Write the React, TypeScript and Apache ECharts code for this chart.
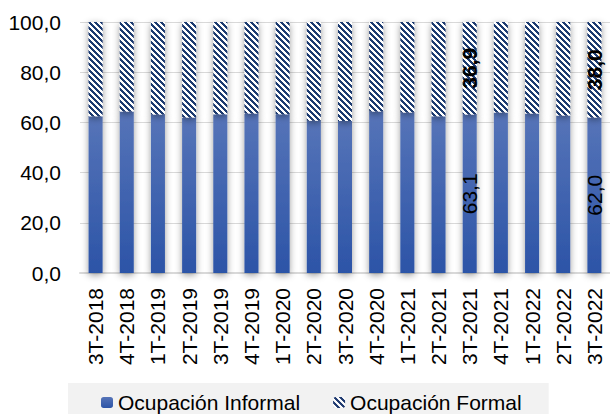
import React, { useEffect, useRef } from "react";
import * as echarts from "echarts";

const categories = [
  "3T-2018", "4T-2018", "1T-2019", "2T-2019", "3T-2019", "4T-2019",
  "1T-2020", "2T-2020", "3T-2020", "4T-2020", "1T-2021", "2T-2021",
  "3T-2021", "4T-2021", "1T-2022", "2T-2022", "3T-2022",
];
const informal = [62.5, 64.3, 63.1, 62.0, 63.2, 63.5, 63.2, 60.7, 60.6, 64.3, 63.9, 62.5, 63.1, 63.9, 63.5, 62.7, 62.0];
const formal = [37.5, 35.7, 36.9, 38.0, 36.8, 36.5, 36.8, 39.3, 39.4, 35.7, 36.1, 37.5, 36.9, 36.1, 36.5, 37.3, 38.0];
const labeledIdx = [12, 16];
const yTicks = { min: 0, max: 100, interval: 20 };

const fmt = (v: number) => v.toFixed(1).replace(".", ",");

function makePattern() {
  const s = 6;
  const c = document.createElement("canvas");
  c.width = s;
  c.height = s;
  const ctx = c.getContext("2d")!;
  ctx.fillStyle = "#ffffff";
  ctx.fillRect(0, 0, s, s);
  ctx.fillStyle = "#1f3a70";
  for (let y = 0; y < s; y++) {
    for (let x = 0; x < s; x++) {
      const d = (((x - y) % s) + s) % s;
      if (d < 3) ctx.fillRect(x, y, 1, 1);
    }
  }
  return { image: c, repeat: "repeat", imageWidth: s, imageHeight: s } as any;
}

export default function App() {
  const ref = useRef<HTMLDivElement>(null);
  useEffect(() => {
    if (!ref.current) return;
    const chart = echarts.init(ref.current, undefined, { renderer: "svg" });
    const font = "'Liberation Sans', Arial, sans-serif";
    const blue = new echarts.graphic.LinearGradient(0, 0, 0, 1, [
      { offset: 0, color: "#5674b8" },
      { offset: 1, color: "#2c54a7" },
    ]);
    const shadow = {
      shadowBlur: 7,
      shadowColor: "rgba(0,0,0,0.4)",
      shadowOffsetX: 0,
      shadowOffsetY: 2,
    };
    const labelBase = {
      position: "inside",
      rotate: 90,
      fontSize: 21,
      color: "#000",
      fontFamily: font,
      textBorderWidth: 0,
      textBorderColor: "transparent",
      formatter: (p: any) => fmt(p.value),
    };
    chart.setOption({
      animation: false,
      textStyle: { fontFamily: font },
      grid: { left: 80, right: -6, top: 22, bottom: 141, containLabel: false },
      legend: {
        left: 68,
        top: 383,
        padding: [9, 27, 14, 33],
        backgroundColor: "#f2f2f2",
        itemWidth: 12,
        itemHeight: 11,
        itemGap: 33,
        textStyle: { fontSize: 21, color: "#000", fontFamily: font },
        data: ["Ocupación Informal", "Ocupación Formal"],
      },
      xAxis: {
        type: "category",
        data: categories,
        axisLine: { lineStyle: { color: "#d9d9d9", width: 2 } },
        axisTick: { show: false },
        axisLabel: {
          rotate: 90,
          fontSize: 21,
          color: "#000",
          margin: 15,
          interval: 0,
          fontFamily: font,
        },
      },
      yAxis: {
        type: "value",
        min: yTicks.min,
        max: yTicks.max,
        interval: yTicks.interval,
        axisLine: { show: false },
        axisTick: { show: false },
        splitLine: { lineStyle: { color: "#d9d9d9", width: 1 } },
        axisLabel: {
          fontSize: 21,
          color: "#000",
          margin: 19,
          fontFamily: font,
          formatter: (v: number) => fmt(v),
        },
      },
      series: [
        {
          name: "Ocupación Informal",
          type: "bar",
          stack: "total",
          barWidth: 14,
          itemStyle: { color: blue, ...shadow },
          data: informal.map((v, i) => ({
            value: v,
            label: { show: labeledIdx.includes(i), ...labelBase },
          })),
        },
        {
          name: "Ocupación Formal",
          type: "bar",
          stack: "total",
          barWidth: 14,
          itemStyle: { color: makePattern(), ...shadow },
          data: formal.map((v, i) => ({
            value: v,
            label: { show: labeledIdx.includes(i), ...labelBase, fontWeight: "bold" },
          })),
        },
      ],
    });
    return () => chart.dispose();
  }, []);
  return <div ref={ref} style={{ width: 610, height: 414, position: "absolute", left: 0, top: 0 }} />;
}
